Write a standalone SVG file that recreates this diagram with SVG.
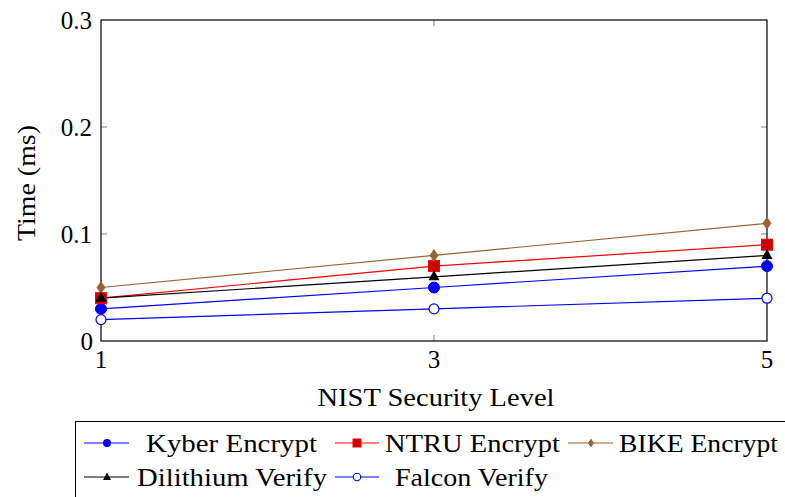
<svg xmlns="http://www.w3.org/2000/svg" width="785" height="497" viewBox="0 0 785 497">
<style>
text{font-family:"Liberation Serif","Times New Roman",serif;font-size:25px;fill:#000}
.tick{stroke:#7f7f7f;stroke-width:1}
.ln{fill:none;stroke-width:1.2}
.blue{stroke:#0000ff}
.red{stroke:#ff0000}
.brown{stroke:#9a6232}
.black{stroke:#000}
</style>
<defs>
<circle id="mk" r="5.5" fill="#0000ff" stroke="#0000ff"/>
<rect id="ms" x="-5.5" y="-5.5" width="11" height="11" fill="#cc0000" stroke="#ff0000"/>
<path id="md" d="M0,-6 L4,0 L0,6 L-4,0Z" fill="#9a6232" stroke="#9a6232" stroke-width="0.8"/>
<path id="mt" d="M0,-6.5 L5.5,3.5 L-5.5,3.5Z" fill="#000"/>
<circle id="mf" r="5" fill="#fff" stroke="#0000ff" stroke-width="1.2"/>
<circle id="lk" r="4" fill="#0000ff"/>
<rect id="ls" x="-4" y="-4" width="8" height="8" fill="#cc0000" stroke="#ff0000"/>
<path id="ld" d="M0,-4.5 L3,0 L0,4.5 L-3,0Z" fill="#9a6232"/>
<path id="lt" d="M0,-4.5 L4,3 L-4,3Z" fill="#000"/>
<circle id="lf" r="3.7" fill="#fff" stroke="#0000ff" stroke-width="1.1"/>
</defs>
<g id="axes">
<line class="tick" x1="101" y1="234" x2="107" y2="234"/>
<line class="tick" x1="101" y1="127" x2="107" y2="127"/>
<line class="tick" x1="767" y1="234" x2="761" y2="234"/>
<line class="tick" x1="767" y1="127" x2="761" y2="127"/>
<line class="tick" x1="434" y1="341" x2="434" y2="335"/>
<line class="tick" x1="434" y1="20" x2="434" y2="26"/>
<rect x="101" y="20" width="666" height="321" fill="none" stroke="#000" stroke-width="1.2"/>
<text x="92" y="29" text-anchor="end">0.3</text>
<text x="92" y="136" text-anchor="end">0.2</text>
<text x="92" y="243" text-anchor="end">0.1</text>
<text x="93" y="350" text-anchor="end">0</text>
<text x="101" y="368" text-anchor="middle">1</text>
<text x="434" y="368" text-anchor="middle">3</text>
<text x="767" y="368" text-anchor="middle">5</text>
<text x="436" y="406" text-anchor="middle" textLength="237" lengthAdjust="spacingAndGlyphs">NIST Security Level</text>
<text transform="translate(35,183) rotate(-90)" text-anchor="middle" textLength="116" lengthAdjust="spacingAndGlyphs">Time (ms)</text>
</g>
<g id="connectors">
<polyline class="ln blue" points="101,308.9 434,287.5 767,266.1"/>
<polyline class="ln red" points="101,298.2 434,266.1 767,244.7"/>
<polyline class="ln brown" points="101,287.5 434,255.4 767,223.3"/>
<polyline class="ln black" points="101,298.2 434,276.8 767,255.4"/>
<polyline class="ln blue" points="101,319.6 434,308.9 767,298.2"/>
</g>
<g id="kyber">
<use href="#mk" x="101" y="308.9"/><use href="#mk" x="434" y="287.5"/><use href="#mk" x="767" y="266.1"/>
</g>
<g id="ntru">
<use href="#ms" x="101" y="298.2"/><use href="#ms" x="434" y="266.1"/><use href="#ms" x="767" y="244.7"/>
</g>
<g id="bike">
<use href="#md" x="101" y="287.5"/><use href="#md" x="434" y="255.4"/><use href="#md" x="767" y="223.3"/>
</g>
<g id="dilithium">
<use href="#mt" x="101" y="298.2"/><use href="#mt" x="434" y="276.8"/><use href="#mt" x="767" y="255.4"/>
</g>
<g id="falcon">
<use href="#mf" x="101" y="319.6"/><use href="#mf" x="434" y="308.9"/><use href="#mf" x="767" y="298.2"/>
</g>
<g id="legend">
<rect x="75.5" y="421.5" width="720" height="100" fill="#fff" stroke="#000" stroke-width="1"/>
<line class="ln blue" x1="84" y1="443" x2="129" y2="443"/><use href="#lk" x="107" y="443"/>
<text x="146" y="452" textLength="171" lengthAdjust="spacingAndGlyphs">Kyber Encrypt</text>
<line class="ln red" x1="335" y1="443" x2="379" y2="443"/><use href="#ls" x="357" y="443"/>
<text x="385" y="452" textLength="175" lengthAdjust="spacingAndGlyphs">NTRU Encrypt</text>
<line class="ln brown" x1="568" y1="443" x2="613" y2="443"/><use href="#ld" x="591" y="443"/>
<text x="619" y="452" textLength="159" lengthAdjust="spacingAndGlyphs">BIKE Encrypt</text>
<line class="ln black" x1="84" y1="477" x2="129" y2="477"/><use href="#lt" x="107" y="477"/>
<text x="137" y="486" textLength="190" lengthAdjust="spacingAndGlyphs">Dilithium Verify</text>
<line class="ln blue" x1="335" y1="477" x2="379" y2="477"/><use href="#lf" x="357" y="477"/>
<text x="395" y="486" textLength="153" lengthAdjust="spacingAndGlyphs">Falcon Verify</text>
</g>
</svg>
